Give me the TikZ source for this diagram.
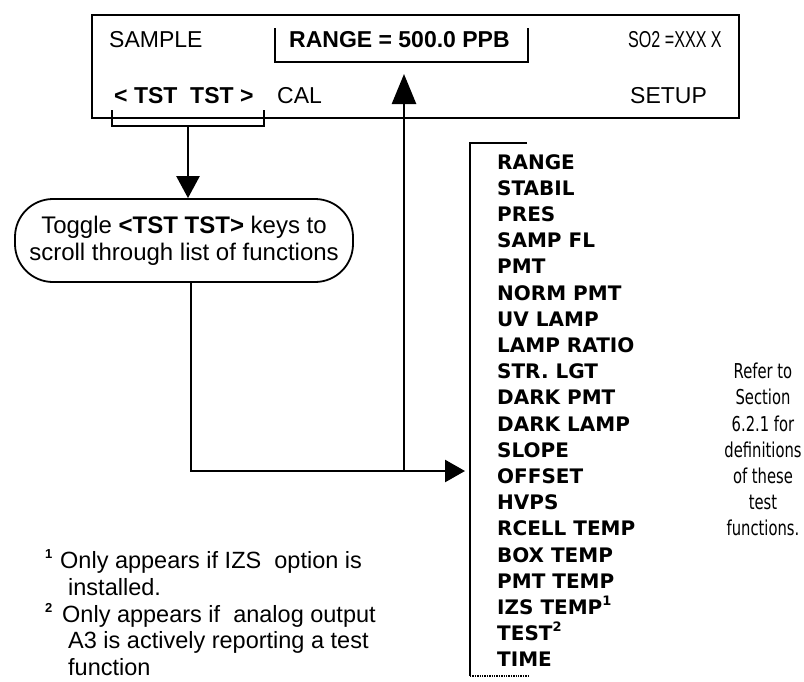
\documentclass[tikz,border=0pt]{standalone}
\usepackage{fontspec}
\usepackage{graphicx}
\setmainfont{Liberation Sans}
\newfontfamily\listfont{DejaVu Sans}
\usetikzlibrary{arrows.meta}
\newcommand\supnum[1]{\raisebox{0.8ex}{\fontsize{13}{13}\selectfont\bfseries #1}}
\begin{document}
\begin{tikzpicture}[x=1pt,y=-1pt,
  conn/.style={line width=2.6pt},
  brk/.style={line width=2.2pt},
  ptext/.style={anchor=base west, inner sep=0pt, font=\fontsize{23}{27}\selectfont},
  ftext/.style={anchor=base west, inner sep=0pt, font=\fontsize{23.5}{27}\selectfont},
  litem/.style={anchor=base west, inner sep=0pt, font=\listfont\bfseries\fontsize{20}{24}\selectfont},
  rtext/.style={anchor=base, inner sep=0pt, font=\listfont\fontsize{20.5}{24}\selectfont},
  bighead/.style={-{Triangle[length=30pt,width=24pt]}},
  midhead/.style={-{Triangle[length=22pt,width=23pt]}},
  smallhead/.style={-{Triangle[length=20pt,width=22pt]}}]
\useasboundingbox (0,0) rectangle (804,681);
% top panel
\node[draw, line width=1.8pt, minimum width=647pt, minimum height=103pt, inner sep=0pt] (panel) at (415.5,66.5) {};
\node[ptext] (sample) at (109,47) {SAMPLE};
\node[ptext] (range) at (289,47) {\bfseries RANGE = 500.0 PPB};
\node[ptext] (so2) at (628,47) {\scalebox{0.7}[1]{SO2 =XXX X}};
\node[ptext] (tst) at (114,103) {\bfseries < TST\ \ TST >};
\node[ptext] (cal) at (277,103) {CAL};
\node[ptext] (setup) at (630,103) {SETUP};
% brackets
\draw[brk] (275,28) -- (275,62) -- (528,62) -- (528,28);
\draw[brk] (112,110) -- (112,126) -- (264,126) -- (264,110);
\coordinate (lbr) at (188,126);
\coordinate (rtip) at (404,74);
% toggle box
\node[draw, line width=1.8pt, rounded corners=38pt, minimum width=338pt, minimum height=83pt, align=center,
      font=\fontsize{24}{27}\selectfont, inner sep=0pt] (toggle) at (184,240.5)
  {Toggle \textbf{<TST TST>} keys to\\scroll through list of functions};
% connectors
\coordinate (junc) at (191,471);
\coordinate (upstart) at (404,471);
\coordinate (lstin) at (470,471);
\draw[conn, midhead] (lbr) -- (lbr |- toggle.north);
\draw[conn] (toggle.south -| junc) -- (junc) -- (upstart);
\draw[conn, smallhead, shorten >=5pt] (upstart) -- (lstin);
\draw[conn, bighead] (upstart) -- (rtip);
% list bracket
\coordinate (ltop) at (470,143);
\coordinate (lbot) at (470,676);
\draw[line width=2.4pt] (527,143) -- (ltop) -- (lbot);
\draw[line width=1.4pt, densely dotted] (lbot) -- (528,676);
\foreach \t [count=\i from 0] in {RANGE,STABIL,PRES,SAMP FL,PMT,NORM PMT,UV LAMP,LAMP RATIO,STR. LGT,DARK PMT,DARK LAMP,SLOPE,OFFSET,HVPS,RCELL TEMP,BOX TEMP,PMT TEMP,{IZS TEMP\supnum{1}},{TEST\supnum{2}},TIME}
  \node[litem] (L\i) at (497,{169+26.2*\i}) {\t};
\foreach \t [count=\i from 8] in {Refer to,Section,6.2.1 for,definitions,of these,test,functions.}
  \node[rtext] (R\i) at (763,{169+26.2*\i}) {\scalebox{0.72}[1]{\t}};
% footnotes
\node[ftext] (f1) at (45,568) {\supnum{1}};
\node[ftext] (f1a) at (60,568) {Only appears if IZS\ \ option is};
\node[ftext] (f1b) at (68,595) {installed.};
\node[ftext] (f2) at (45,622) {\supnum{2}};
\node[ftext] (f2a) at (62,622) {Only appears if\ \ analog output};
\node[ftext] (f2b) at (68,648) {A3 is actively reporting a test};
\node[ftext] (f2c) at (68,675) {function};
\end{tikzpicture}
\end{document}
